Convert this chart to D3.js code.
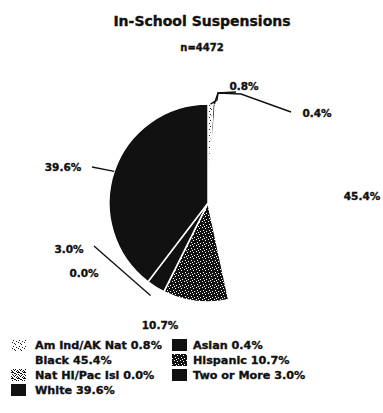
<!DOCTYPE html>
<html><head><meta charset="utf-8">
<script src="https://cdn.jsdelivr.net/npm/d3@7"></script>
<style>body{margin:0;background:#fff}svg{display:block}text{font-family:"DejaVu Sans",sans-serif;font-weight:bold;fill:#111;stroke:#111;stroke-width:0.35px}</style>
</head><body>
<script>
const title = "In-School Suspensions";
const subtitle = "n=4472";
const categories = ["Am Ind/AK Nat","Asian","Black","Hispanic","Nat HI/Pac Isl","Two or More","White"];
const values = [0.8,0.4,45.4,10.7,0.0,3.0,39.6];
const fills = ["url(#pLight)","#111","#fff","url(#pDense)","url(#pMed)","#111","#111"];
// label layout (positions only)
const labelPos = [[244,90],[317,117],[362,200],[160,329],[84,277],[69,253],[63,171]];
const leaderElbows = [[[217,100],[218,93],[236,92]],[[218,93],[241,94],[291,112]],null,null,null,[[94,246]],[[92,167]]];
const leaderRadius = [1,1,0,0,0,1.1,1];

const W=383,H=413, cx=208, cy=203, R=99;
const svg=d3.select("body").append("svg").attr("width",W).attr("height",H);
const defs=svg.append("defs");
function pat(id,bg,fg,dots,size){
  const p=defs.append("pattern").attr("id",id).attr("patternUnits","userSpaceOnUse").attr("width",size).attr("height",size);
  p.append("rect").attr("width",size).attr("height",size).attr("fill",bg);
  dots.forEach(d=>p.append("rect").attr("x",d[0]).attr("y",d[1]).attr("width",1).attr("height",1).attr("fill",fg));
}
pat("pLight","#fff","#222",[[0,0],[3,2],[1,4],[4,5],[2,1]],6);
pat("pDense","#111","#fff",[[0,0],[3,1],[1,3],[4,4],[2,5]],6);
pat("pMed","#fff","#111",[[0,0],[1,0],[2,1],[3,1],[4,2],[0,2],[1,3],[3,3],[5,4],[2,4],[4,5],[0,5],[5,0]],6);

svg.append("text").attr("x",202).attr("y",26).attr("text-anchor","middle").style("font-size","14px").text(title);
svg.append("text").attr("x",202).attr("y",51).attr("text-anchor","middle").style("font-size","10px").text(subtitle);

const pie=d3.pie().sort(null).value(d=>d);
const arcs=pie(values);
const arc=d3.arc().innerRadius(0).outerRadius(R);
const g=svg.append("g").attr("transform",`translate(${cx},${cy})`);
g.selectAll("path").data(arcs).join("path").attr("d",arc)
  .attr("fill",(d,i)=>fills[i]).attr("stroke","#fff").attr("stroke-width",1.5);

function pt(a,r){return [cx+Math.sin(a)*r, cy-Math.cos(a)*r];}
const line=d3.line();
arcs.forEach((a,i)=>{
  if(!leaderElbows[i]) return;
  const mid=(a.startAngle+a.endAngle)/2;
  const pts=[pt(mid,R*leaderRadius[i])].concat(leaderElbows[i]);
  svg.append("path").attr("d",line(pts)).attr("fill","none").attr("stroke","#111").attr("stroke-width",1.4);
});
arcs.forEach((a,i)=>{
  svg.append("text").attr("x",labelPos[i][0]).attr("y",labelPos[i][1]).attr("text-anchor","middle")
    .style("font-size","10.5px").text(values[i].toFixed(1)+"%");
});

// legend
const leg=svg.append("g");
categories.forEach((c,i)=>{
  const col=i%2,row=Math.floor(i/2);
  const x=col?172:11, ty=349+row*15;
  if(fills[i]!=="#fff") leg.append("rect").attr("x",x).attr("y",ty-10).attr("width",15).attr("height",12).attr("fill",fills[i]);
  leg.append("text").attr("x",col?193:35).attr("y",ty).style("font-size","11.2px").text(c+" "+values[i].toFixed(1)+"%");
});
</script>
</body></html>
